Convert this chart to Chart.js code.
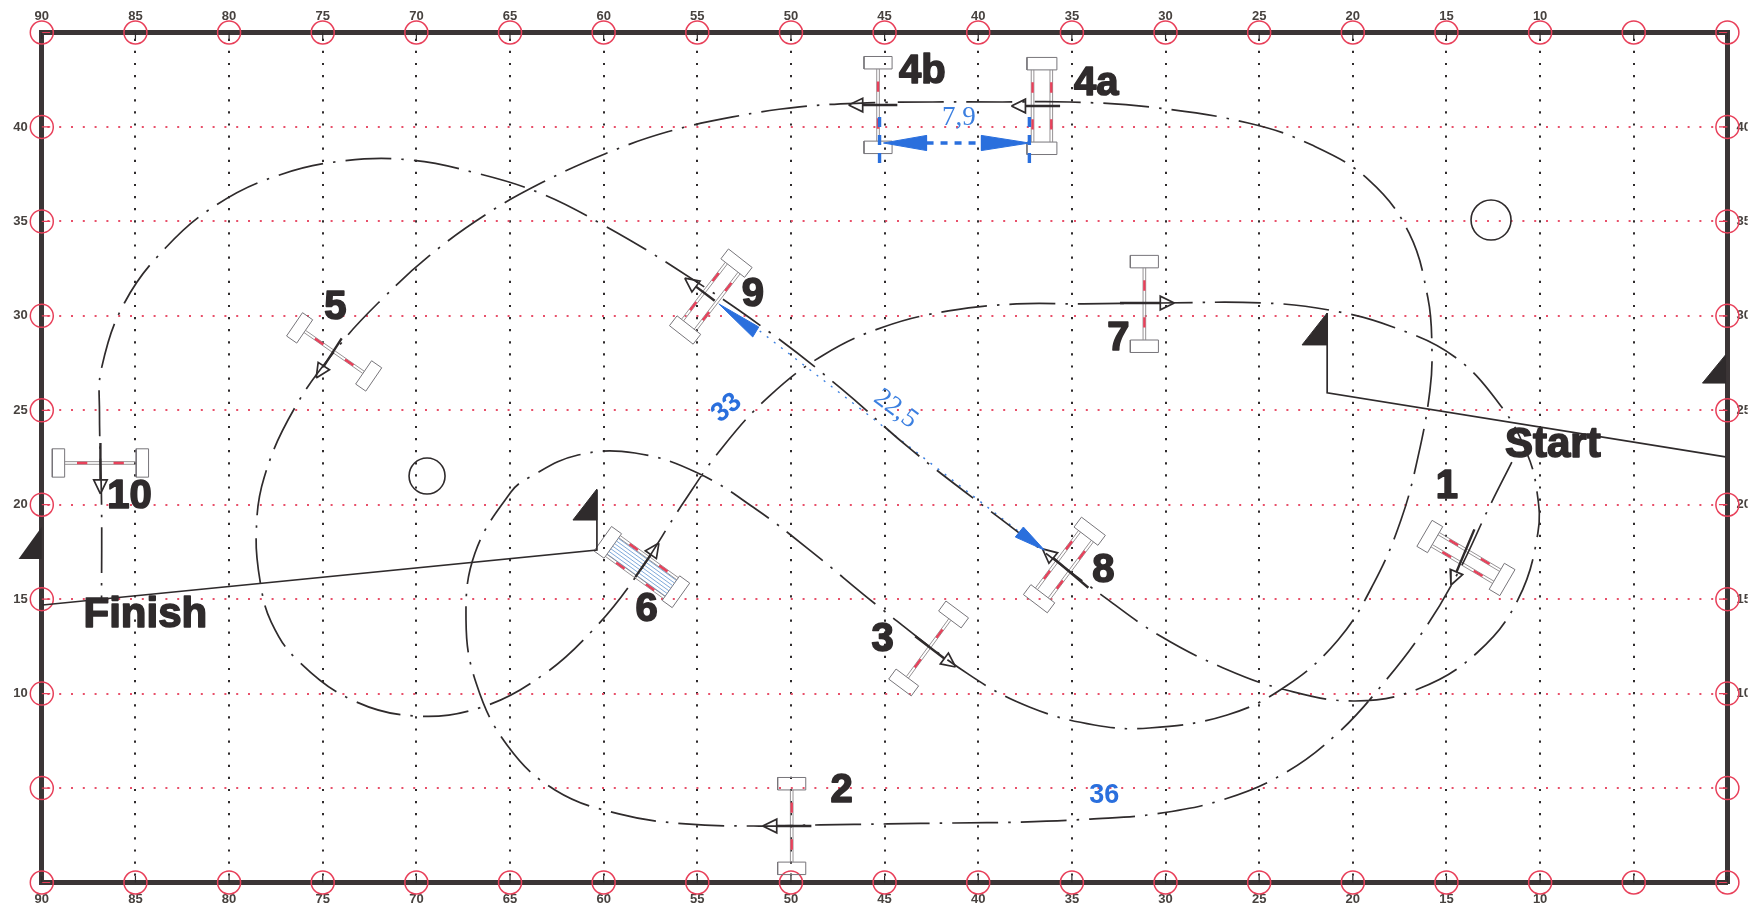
<!DOCTYPE html>
<html>
<head>
<meta charset="utf-8">
<title>Course plan</title>
<script src="https://cdn.jsdelivr.net/npm/chart.js@4/dist/chart.umd.min.js"></script>
<style>
	html, body { margin: 0; padding: 0; background: #fff; overflow: hidden; }
	canvas { display: block; }
</style>
</head>
<body>
<canvas id="plan" width="1749" height="906"></canvas>
<script>
// arena grid, in metres
const xTicks = [90, 85, 80, 75, 70, 65, 60, 55, 50, 45, 40, 35, 30, 25, 20, 15, 10, 5, 0];
const yTicks = [45, 40, 35, 30, 25, 20, 15, 10, 5, 0];
const xLabelled = [90, 85, 80, 75, 70, 65, 60, 55, 50, 45, 40, 35, 30, 25, 20, 15, 10];
const yLabelled = [40, 35, 30, 25, 20, 15, 10];

// ridden track
const trackX = [11.51, 12.74, 14.39, 16.2, 18.44, 20.79, 23.62, 26.98, 30.55, 34.02, 37.75, 41.32, 44.84, 48.42, 51.99, 55.62, 59.19, 62.6, 65.16, 66.81, 67.35, 66.87, 64.95, 63.93, 61.37, 58.33, 54.98, 51.88, 49, 45.22, 40.47, 37.27, 33.8, 30.87, 26.71, 23.56, 20.79, 18.87, 17.43, 16.52, 15.88, 15.78, 15.99, 17, 19.14, 22.18, 25.59, 30.87, 35.14, 38.71, 42.44, 45.96, 49.54, 53.11, 56.63, 59.94, 63.24, 66.33, 69.32, 71.88, 74.01, 76.47, 78.12, 78.55, 78.33, 77.75, 76.36, 73.43, 69.96, 66.49, 63.24, 60.57, 58.33, 55.72, 53.64, 51.14, 48.26, 45.06, 41.59, 37.96, 34.39, 30.34, 24.74, 21.27, 17.86, 14.55, 12.05, 10.71, 10.18, 10.12, 11.19, 13.38, 16.52, 19.88, 23.56, 26.92, 30.28, 33.06, 38.87, 43.56, 47.3, 51.08, 56.1, 60.2, 63.4, 66.81, 70.33, 73.91, 77.48, 80.68, 83.4, 85.59, 86.81, 86.92, 86.81, 86.81];
const trackY = [22.26, 19.83, 16.39, 13.37, 10.46, 7.92, 5.8, 4.37, 3.63, 3.36, 3.2, 3.15, 3.1, 3.05, 2.99, 3.1, 3.63, 4.9, 7.28, 10.56, 13.9, 17.44, 20.67, 21.47, 22.63, 22.74, 21.68, 19.77, 17.6, 14.53, 10.99, 9.29, 8.34, 8.18, 8.87, 10.4, 12.84, 15.86, 19.19, 22.53, 26.07, 28.46, 30.94, 34.39, 37.19, 39.04, 40.21, 41.06, 41.32, 41.32, 41.32, 41.27, 41.06, 40.53, 39.73, 38.57, 37.08, 35.34, 33.17, 30.84, 28.56, 25.17, 21.47, 18.5, 15.86, 13.79, 11.78, 9.66, 8.81, 9.29, 10.99, 13.37, 16.12, 20.14, 23.06, 25.76, 27.93, 29.41, 30.26, 30.63, 30.63, 30.68, 30.68, 30.31, 29.41, 27.82, 25.17, 22.74, 20.78, 18.5, 14.96, 12.15, 10.24, 9.61, 10.19, 11.36, 13.05, 14.96, 19.3, 22.9, 26.13, 29.09, 32.48, 34.91, 36.5, 37.56, 38.25, 38.2, 37.4, 35.87, 33.59, 30.68, 27.24, 24.91, 20.09, 14.96];

// fences: centre, rail direction (degrees on the plan), half spread in metres
const fenceX = [13.96, 49.96, 42.65, 36.6, 45.35, 74.39, 57.96, 31.13, 35.4, 54.28, 86.87];
const fenceY = [17.18, 2.99, 12.39, 41.11, 41.16, 28.09, 16.7, 30.63, 16.81, 31.02, 22.21];
const fenceAngle = [-30.5, 90, 53.5, 90, 90, -34.6, -35.7, 90, 52.9, 52.2, 0];
const fenceSpread = [0.37, 0, 0, 0.5, 0, 0, 0.61, 0, 0.43, 0.43, 0];
const waterFence = 6;

// direction arrows at the fences: tip, heading, shaft length
const arrowX = [14.76, 51.51, 41.21, 38.23, 46.92, 75.35, 57.05, 29.53, 36.57, 55.67, 86.87];
const arrowY = [15.75, 2.99, 11.41, 41.11, 41.16, 26.71, 17.97, 30.68, 17.66, 32, 20.57];
const arrowDir = [247, 180, -37, 180, 180, 237, 55, 0, 140, 143, 270];
const arrowShaft = [3.2, 2.6, 2.7, 2.6, 2.6, 2.5, 2.2, 2.9, 3.2, 2, 2.7];

// trees
const treeX = [12.62, 69.43];
const treeY = [35.07, 21.52];
const treeR = [20, 18];

// start and finish lines with their flags
const startX = [21.37, 21.37, 0.1];
const startY = [30.15, 25.92, 22.53];
const finishX = [89.96, 60.36, 60.36];
const finishY = [14.69, 17.6, 20.78];
const flagAX = [21.37, 22.71, 21.37];
const flagAY = [30.15, 28.46, 28.46];
const flagBX = [0.1, 1.33, 0.1];
const flagBY = [27.93, 26.44, 26.44];
const flagCX = [60.36, 61.64, 60.36];
const flagCY = [20.83, 19.19, 19.19];
const flagDX = [90.01, 91.24, 90.01];
const flagDY = [18.82, 17.13, 17.13];

// measured distances
const gapLeftX = [45.27, 45.27];
const gapRightX = [37.27, 37.27];
const gapY = [40.53, 37.83];
const gapDotsX = [42.76, 39.83];
const gapDotsY = [39.15, 39.15];
const gapHeadLX = [45.06, 42.76, 42.76];
const gapHeadLY = [39.15, 39.55, 38.75];
const gapHeadRX = [37.27, 39.83, 39.83];
const gapHeadRY = [39.15, 39.55, 38.75];
const lineDotsX = [51.67, 37.8];
const lineDotsY = [29.2, 18.56];
const lineHead9X = [53.85, 51.72, 52.04];
const lineHead9Y = [30.63, 29.41, 28.88];
const lineHead8X = [36.47, 37.59, 38.02];
const lineHead8Y = [17.6, 18.82, 18.29];

// texts on the plan
const fenceLabels = ['1', '2', '3', '4a', '4b', '5', '6', '7', '8', '9', '10', 'Start', 'Finish'];
const fenceLabelX = [14.98, 47.3, 45.11, 33.7, 42.98, 74.33, 57.7, 32.52, 33.32, 52.04, 85.32, 9.32, 84.47];
const fenceLabelY = [20.94, 4.84, 12.84, 42.27, 42.91, 30.41, 14.43, 28.77, 16.49, 31.1, 20.41, 23.16, 14.16];
const distLabels = ['33', '36', '7,9', '22,5'];
const distLabelX = [53.43, 33.27, 41.03, 44.41];
const distLabelY = [25.12, 4.58, 40.47, 25.07];
const distLabelTilt = [-40, 0, 0, 37];

const INK = '#2f2b2c';
const RED = '#e8405a';
const BLUE = '#2a6fdd';
const GAP = { x: NaN, y: NaN };

const pts = (xs, ys) => xs.map((x, i) => ({ x: x, y: ys[i] }));

// point on a fence or arrow: u along its direction, v across it
const along = (cx, cy, deg, u, v) => {
	const a = deg * Math.PI / 180;
	return {
		x: cx - (u * Math.cos(a) - v * Math.sin(a)),
		y: cy + u * Math.sin(a) + v * Math.cos(a)
	};
};

const wings = [], rails = [], marks = [], hatch = [], shafts = [], heads = [], frameTicks = [], sideTicks = [];

fenceX.forEach((cx, i) => {
	const cy = fenceY[i], deg = fenceAngle[i], s = fenceSpread[i];
	const halfLen = 2.24, depth = 0.33, wing = s > 0 ? 0.8 : 0.75;
	[-halfLen, halfLen].forEach(u => {
		wings.push(
			along(cx, cy, deg, u - depth, -wing),
			along(cx, cy, deg, u + depth, -wing),
			along(cx, cy, deg, u + depth, wing),
			along(cx, cy, deg, u - depth, wing),
			along(cx, cy, deg, u - depth, -wing),
			GAP
		);
	});
	const inner = halfLen - depth;
	(s > 0 ? [-s, s] : [0]).forEach(r => {
		[-0.07, 0.07].forEach(d => {
			rails.push(along(cx, cy, deg, -inner, r + d), along(cx, cy, deg, inner, r + d), GAP);
		});
		[[-1.25, -0.7], [0.7, 1.25]].forEach(m => {
			marks.push(along(cx, cy, deg, m[0], r), along(cx, cy, deg, m[1], r), GAP);
		});
	});
	if (i === waterFence) {
		for (let v = -0.52; v < 0.6; v += 0.17) {
			hatch.push(along(cx, cy, deg, -inner, v), along(cx, cy, deg, inner, v), GAP);
		}
	}
});

arrowX.forEach((tx, i) => {
	const ty = arrowY[i], deg = arrowDir[i];
	const headLen = 0.75, headHalf = 0.36;
	heads.push(
		along(tx, ty, deg, 0, 0),
		along(tx, ty, deg, -headLen, headHalf),
		along(tx, ty, deg, -headLen, -headHalf),
		along(tx, ty, deg, 0, 0),
		GAP
	);
	shafts.push(along(tx, ty, deg, -headLen, 0), along(tx, ty, deg, -arrowShaft[i], 0), GAP);
});

xTicks.forEach(x => {
	frameTicks.push({ x: x, y: 45 }, { x: x, y: 44.65 }, GAP, { x: x, y: 0 }, { x: x, y: 0.35 }, GAP);
});
yTicks.forEach(y => {
	sideTicks.push({ x: 90, y: y }, { x: 89.55, y: y }, GAP, { x: 0, y: y }, { x: 0.45, y: y }, GAP);
});

const rings = [];
xTicks.forEach(x => { rings.push({ x: x, y: 45 }, { x: x, y: 0 }); });
yTicks.slice(1, -1).forEach(y => { rings.push({ x: 90, y: y }, { x: 0, y: y }); });

const stroke = (data, color, width, extra) => Object.assign({
	data: data, borderColor: color, borderWidth: width, pointRadius: 0, tension: 0, clip: false, fill: false
}, extra);
const solid = (xs, ys, color) => ({
	data: pts(xs, ys).concat(pts(xs, ys).slice(0, 1)),
	borderColor: color, backgroundColor: color, borderWidth: 1, pointRadius: 0, tension: 0, clip: false, fill: 'shape'
});

const datasets = [
	// first datasets here are drawn last
	solid(gapHeadLX, gapHeadLY, BLUE),
	solid(gapHeadRX, gapHeadRY, BLUE),
	solid(lineHead9X, lineHead9Y, BLUE),
	solid(lineHead8X, lineHead8Y, BLUE),
	stroke(heads, INK, 1.7),
	stroke(shafts, INK, 2.4),
	stroke(pts(trackX, trackY), INK, 1.7, { tension: 0.4, borderDash: [46, 10, 2.5, 10] }),
	stroke(pts(startX, startY), INK, 1.7),
	stroke(pts(finishX, finishY), INK, 1.7),
	solid(flagAX, flagAY, INK),
	solid(flagBX, flagBY, INK),
	solid(flagCX, flagCY, INK),
	stroke(pts(gapLeftX, gapY), BLUE, 3.4, { borderDash: [10, 8] }),
	stroke(pts(gapRightX, gapY), BLUE, 3.4, { borderDash: [10, 8] }),
	stroke(pts(gapDotsX, gapDotsY), BLUE, 3.6, { borderDash: [7, 7] }),
	stroke(pts(lineDotsX, lineDotsY), '#3b7fe0', 1.4, { borderDash: [2, 7] }),
	stroke(marks, RED, 2.4),
	stroke(rails, '#8a8688', 0.9),
	stroke(hatch, '#6f9fd6', 0.9),
	stroke(wings, '#77757a', 1),
	{
		data: pts(treeX, treeY), showLine: false, clip: false,
		pointRadius: treeR, pointBackgroundColor: 'transparent', pointBorderColor: INK, pointBorderWidth: 1.6
	},
	{
		data: rings, showLine: false, clip: false,
		pointRadius: 11.5, pointBackgroundColor: 'transparent', pointBorderColor: RED, pointBorderWidth: 1.5
	},
	stroke(frameTicks, INK, 1.2),
	stroke(sideTicks, RED, 1.2)
];

const planTexts = {
	id: 'planTexts',
	afterDatasetsDraw(chart) {
		const { ctx, scales: { x, y } } = chart;
		ctx.save();
		// this flag sits outside the arena, the filler would clip it away
		ctx.fillStyle = INK;
		ctx.beginPath();
		flagDX.forEach((fx, i) => ctx.lineTo(x.getPixelForValue(fx), y.getPixelForValue(flagDY[i])));
		ctx.closePath();
		ctx.fill();

		ctx.textAlign = 'center';
		ctx.textBaseline = 'middle';
		fenceLabels.forEach((t, i) => {
			const px = x.getPixelForValue(fenceLabelX[i]), py = y.getPixelForValue(fenceLabelY[i]);
			ctx.fillStyle = INK;
			ctx.strokeStyle = INK;
			ctx.lineWidth = 1.6;
			ctx.lineJoin = 'round';
			ctx.font = (t.length > 2 ? 'bold 42px' : 'bold 40px') + ' "Liberation Sans"';
			ctx.fillText(t, px, py);
			ctx.strokeText(t, px, py);
		});
		distLabels.forEach((t, i) => {
			const bold = i < 2;
			ctx.save();
			ctx.translate(x.getPixelForValue(distLabelX[i]), y.getPixelForValue(distLabelY[i]));
			ctx.rotate(distLabelTilt[i] * Math.PI / 180);
			ctx.fillStyle = bold ? BLUE : '#3b7fe0';
			ctx.font = bold ? 'bold 27px "Liberation Sans"' : '27px "Liberation Serif"';
			ctx.fillText(t, 0, 0);
			ctx.restore();
		});
		ctx.restore();
	}
};

const tickFont = { family: '"Liberation Sans"', size: 13, weight: 'bold' };
const frame = { display: true, color: '#3b3536', width: 5 };
const hideExcept = list => value => (list.includes(value) ? String(value) : '');

const axis = (position, min, max, size, labelled, gridColor, padding, dashOffset, dash) => ({
	type: 'linear',
	position: position,
	axis: position === 'top' || position === 'bottom' ? 'x' : 'y',
	min: min,
	max: max,
	reverse: position === 'top' || position === 'bottom',
	afterFit(scale) {
		if (scale.isHorizontal()) {
			scale.height = size;
		} else {
			scale.width = size;
		}
	},
	grid: {
		display: !!gridColor,
		color: gridColor || 'transparent',
		lineWidth: 2,
		drawTicks: false,
		drawOnChartArea: !!gridColor
	},
	border: Object.assign({}, frame, { dash: dash, dashOffset: dashOffset }),
	ticks: {
		stepSize: 5,
		autoSkip: false,
		maxRotation: 0,
		padding: padding,
		color: '#47423f',
		font: tickFont,
		callback: hideExcept(labelled)
	}
});

new Chart(document.getElementById('plan'), {
	type: 'line',
	data: { datasets: datasets },
	options: {
		responsive: false,
		animation: false,
		events: [],
		parsing: { xAxisKey: 'x', yAxisKey: 'y' },
		layout: { padding: 0 },
		plugins: { legend: { display: false }, tooltip: { enabled: false }, title: { display: false } },
		scales: {
			x: axis('top', 0, 90, 32.5, xLabelled, '#2f2b2c', 8, 8.4, [2.2, 9.9]),
			x2: axis('bottom', 0, 90, 23.5, xLabelled, null, 9),
			y: axis('left', 0, 45, 41.8, yLabelled, '#e8506a', 14, 8.4, [2, 9.8]),
			y2: axis('right', 0, 45, 20.3, yLabelled, null, 9)
		}
	},
	plugins: [planTexts]
});
</script>
</body>
</html>
